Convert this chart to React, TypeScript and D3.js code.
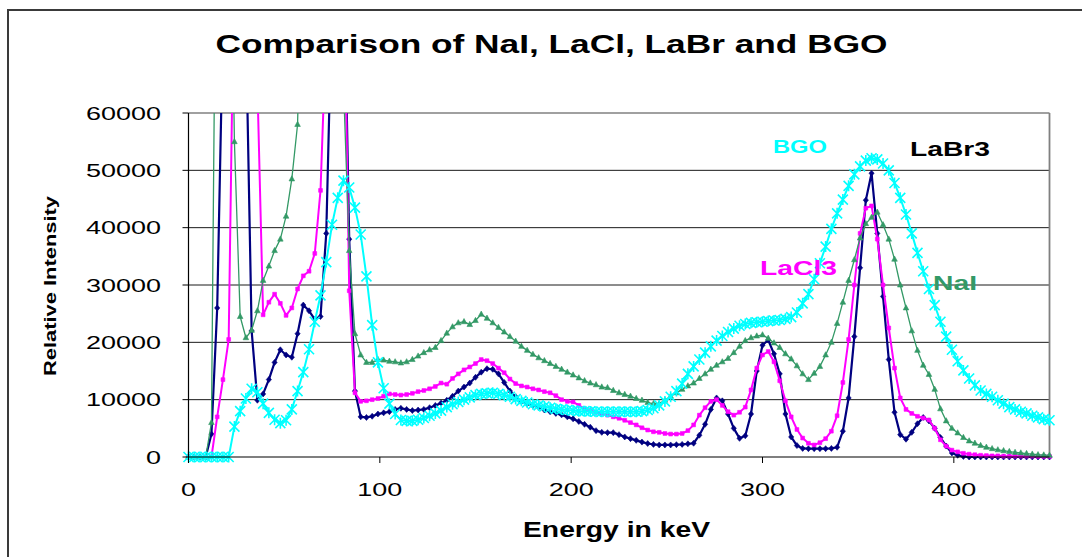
import React from "react";
import * as d3 from "d3";

// Energy channels (keV), one sample every 3 keV from 0 to 450
const energies: number[] = d3.range(0, 451, 3);

const labr3: number[] = [
  0, 0, 0, 0, 4000, 26000, 75000, 120000, 130000, 110000,
  75000, 22000, 9900, 11000, 13500, 16500, 18700, 17800, 17400, 21500,
  26500, 25500, 24000, 24500, 39000, 80000, 120000, 90000, 38000, 11500,
  7000, 6900, 7100, 7500, 7700, 7900, 8300, 8500, 8300, 8100,
  8200, 8300, 8600, 9000, 9400, 9900, 10600, 11500, 12200, 12900,
  13900, 14800, 15400, 15300, 14500, 13000, 11500, 10500, 9700, 9300,
  9000, 8700, 8200, 7900, 7600, 7350, 7000, 6650, 6200, 5700,
  5200, 4600, 4300, 4250, 4250, 3900, 3500, 3200, 2900, 2600,
  2350, 2200, 2100, 2100, 2100, 2150, 2200, 2300, 2400, 3800,
  5700, 8300, 10300, 9800, 7500, 5000, 3250, 3700, 7500, 15000,
  19500, 20400, 18000, 14500, 7500, 3500, 2000, 1500, 1450, 1450,
  1450, 1450, 1500, 1700, 4500, 10300, 21000, 33000, 44800, 49500,
  39000, 28000, 17000, 7800, 3900, 3100, 4300, 5800, 6900, 6300,
  5000, 3400, 1900, 700, 300, 100, 0, 0, 0, 0,
  0, 0, 0, 0, 0, 0, 0, 0, 0, 0,
  0,
];

const lacl3: number[] = [
  0, 0, 0, 0, 0, 7000, 13500, 20500, 90000, 130000,
  140000, 110000, 65000, 24800, 27000, 28400, 26800, 24700, 26000, 29300,
  31600, 32400, 35500, 46500, 75000, 130000, 140000, 90000, 29000, 11200,
  9700, 9800, 10000, 10200, 10600, 11000, 10900, 10800, 10900, 11100,
  11400, 11600, 11900, 12300, 12900, 12700, 13700, 14500, 15200, 15700,
  16300, 17000, 16800, 16300, 15500, 14700, 13600, 12800, 12400, 12200,
  11900, 11700, 11400, 11200, 10700, 10000, 9700, 9600, 9000, 8400,
  8100, 7800, 7600, 7300, 7000, 6750, 6400, 6000, 5600, 5100,
  4700, 4400, 4300, 4100, 4000, 4000, 4100, 4600, 5600, 7300,
  8600, 9700, 10000, 9000, 7900, 7300, 7800, 8700, 11700, 15500,
  17800, 18400, 16600, 13300, 9800, 7000, 4800, 3300, 2400, 2100,
  2500, 3200, 4500, 7200, 13000, 20500, 30000, 39000, 43400, 43800,
  38000, 30000, 22500, 15500, 10300, 8300, 7600, 7100, 6800, 6450,
  5000, 3000, 1900, 1200, 900, 650, 500, 400, 300, 250,
  200, 200, 150, 150, 150, 150, 150, 150, 100, 100,
  100,
];

const nai: number[] = [
  0, 0, 0, 0, 6000, 120000, 150000, 120000, 55000, 24500,
  20800, 22100, 25500, 30800, 33300, 36000, 38000, 42000, 48500, 58000,
  100000, 140000, 160000, 160000, 160000, 150000, 120000, 65000, 36000, 21500,
  17800, 16500, 16500, 17000, 16900, 16700, 16600, 16400, 16600, 17000,
  17600, 18200, 18700, 19100, 20300, 21600, 22700, 23400, 23600, 23100,
  23800, 24900, 24200, 23400, 22600, 21800, 21000, 20200, 19300, 18600,
  17900, 17300, 16800, 16300, 15800, 15300, 14800, 14300, 13800, 13300,
  12900, 12600, 12200, 12100, 11600, 11200, 10900, 10600, 10200, 9900,
  9500, 9300, 9300, 9900, 10600, 11200, 11800, 12400, 12900, 13700,
  14500, 15300, 16000, 16600, 17200, 18200, 19300, 20300, 20800, 21100,
  21300, 20700, 19900, 19100, 18000, 17100, 15900, 14500, 13500, 14600,
  15800, 17800, 20000, 23300, 27000, 30800, 34400, 38200, 40700, 41800,
  42700, 40500, 38000, 34500, 30000, 26000, 22000, 18600, 16000, 14400,
  11800, 8400, 6300, 5000, 4200, 3400, 2800, 2400, 2000, 1700,
  1450, 1250, 1100, 950, 800, 700, 600, 500, 400, 350,
  300,
];

const bgo: number[] = [
  0, 0, 0, 0, 0, 0, 0, 0, 5300, 8000,
  10200, 11900, 11300, 9300, 7700, 6500, 5900, 6400, 8300, 11500,
  14800, 18800, 23600, 28200, 34000, 40500, 45200, 48200, 47000, 43500,
  38800, 31500, 23000, 16500, 12000, 9300, 7500, 6450, 6300, 6300,
  6500, 6800, 7200, 7600, 8100, 8700, 9200, 9600, 10000, 10400,
  10800, 11000, 11100, 11200, 11000, 10800, 10500, 10100, 9800, 9500,
  9200, 9000, 8800, 8600, 8400, 8300, 8200, 8100, 8000, 8000,
  7950, 7900, 7900, 7900, 7900, 7900, 7900, 7900, 7900, 8000,
  8200, 8500, 9000, 9700, 10500, 11500, 12800, 14500, 15800, 17000,
  18200, 19300, 20300, 21100, 21800, 22400, 22900, 23200, 23400, 23500,
  23600, 23700, 23800, 23900, 24100, 24400, 25200, 26800, 28400, 31000,
  33800, 36700, 39800, 42500, 44900, 47300, 49300, 50700, 51700, 52100,
  51900, 51200, 50000, 47800, 45200, 42300, 39000, 35600, 32400, 29300,
  26500, 23600, 21000, 18700, 16700, 15100, 13700, 12500, 11600, 11000,
  10500, 9900, 9300, 8700, 8300, 7900, 7600, 7200, 6900, 6600,
  6400,
];

const yTicks: number[] = [0, 10000, 20000, 30000, 40000, 50000, 60000];
const xTicks: number[] = [0, 100, 200, 300, 400];

const FONT = "'Liberation Sans', Arial, Helvetica, sans-serif";

type Marker = "diamond" | "square" | "triangle" | "star";

interface Series {
  name: string;
  values: number[];
  color: string;
  width: number;
  marker: Marker;
}

// drawn bottom to top
const seriesList: Series[] = [
  { name: "LaBr3", values: labr3, color: "#000080", width: 2.2, marker: "diamond" },
  { name: "LaCl3", values: lacl3, color: "#FF00FF", width: 2, marker: "square" },
  { name: "NaI", values: nai, color: "#339966", width: 1.3, marker: "triangle" },
  { name: "BGO", values: bgo, color: "#00FFFF", width: 2, marker: "star" },
];

function markerPath(m: Marker): string {
  switch (m) {
    case "diamond":
      return "M0,-3L2.6,0L0,3L-2.6,0Z";
    case "square":
      return "M-1.9,-1.9H1.9V1.9H-1.9Z";
    case "triangle":
      return "M0,-3.2L2.8,2H-2.8Z";
    case "star":
      return "M-5,-5L5,5M-5,5L5,-5M0,-5.5L0,5.5";
  }
}

export default function App() {
  const W = 1082;
  const H = 557;
  const left = 188.5;
  const right = 1049.5;
  const top = 113;
  const bottom = 457;

  const x = d3.scaleLinear().domain([0, 450]).range([left, right]);
  const y = d3.scaleLinear().domain([0, 60000]).range([bottom, top]);

  const line = d3
    .line<number>()
    .x((_, i) => x(energies[i]))
    .y((v) => y(v));

  return (
    <svg
      width={W}
      height={H}
      viewBox={`0 0 ${W} ${H}`}
      style={{ position: "absolute", left: 0, top: 0, background: "#fff" }}
      fontFamily={FONT}
    >
      <defs>
        <clipPath id="plotClip">
          <rect x={left} y={top} width={right - left + 2} height={bottom - top + 5} />
        </clipPath>
        <clipPath id="markClip">
          <rect x={left - 10} y={top - 6} width={right - left + 30} height={bottom - top + 18} />
        </clipPath>
      </defs>

      {/* outer chart frame */}
      <rect x={8} y={10} width={1100} height={580} fill="#fff" stroke="#3a3a3a" strokeWidth={2} />

      {/* title */}
      <text
        x={551.5}
        y={53}
        textAnchor="middle"
        fontSize={25.5}
        fontWeight="bold"
        textLength={672}
        lengthAdjust="spacingAndGlyphs"
      >
        Comparison of NaI, LaCl, LaBr and BGO
      </text>

      {/* horizontal gridlines */}
      {yTicks
        .filter((t) => t > 0 && t < 60000)
        .map((t) => (
          <line key={`g${t}`} x1={left} x2={right} y1={y(t)} y2={y(t)} stroke="#1a1a1a" strokeWidth={1} />
        ))}

      {/* plot frame: top and right in grey */}
      <line x1={left} x2={right} y1={top} y2={top} stroke="#808080" strokeWidth={1.5} />
      <line x1={right} x2={right} y1={top} y2={bottom} stroke="#808080" strokeWidth={1.8} />

      {/* series */}
      {seriesList.map((s) => {
        const d = line(s.values) || "";
        const mp = markerPath(s.marker);
        return (
          <g key={s.name}>
            <path d={d} fill="none" stroke={s.color} strokeWidth={s.width} clipPath="url(#plotClip)" strokeLinejoin="round" />
            <g clipPath="url(#markClip)">
              {s.values.map((v, i) =>
                y(v) < top - 2 ? null : (
                  <path
                    key={i}
                    transform={`translate(${x(energies[i])},${y(v)})`}
                    d={mp}
                    fill={s.marker === "star" ? "none" : s.color}
                    stroke={s.color}
                    strokeWidth={s.marker === "star" ? 1.6 : 0.6}
                  />
                )
              )}
            </g>
          </g>
        );
      })}

      {/* axes */}
      <line x1={left} x2={left} y1={top} y2={bottom} stroke="#000" strokeWidth={1.2} />
      <line x1={left} x2={right} y1={bottom} y2={bottom} stroke="#000" strokeWidth={1.2} />
      {yTicks.map((t) => (
        <line key={`yt${t}`} x1={left - 6} x2={left} y1={y(t)} y2={y(t)} stroke="#000" strokeWidth={1} />
      ))}
      {xTicks.map((t) => (
        <line key={`xt${t}`} x1={x(t)} x2={x(t)} y1={bottom} y2={bottom + 6} stroke="#000" strokeWidth={1} />
      ))}

      {/* tick labels */}
      {yTicks.map((t) => {
        const label = String(t);
        return (
          <text
            key={`yl${t}`}
            x={161}
            y={y(t) + 6.7}
            textAnchor="end"
            fontSize={18.5}
            textLength={label.length * 15}
            lengthAdjust="spacingAndGlyphs"
          >
            {label}
          </text>
        );
      })}
      {xTicks.map((t) => {
        const label = String(t);
        return (
          <text
            key={`xl${t}`}
            x={x(t)}
            y={496}
            textAnchor="middle"
            fontSize={18.5}
            textLength={label.length * 15}
            lengthAdjust="spacingAndGlyphs"
          >
            {label}
          </text>
        );
      })}

      {/* axis titles */}
      <text
        x={616.5}
        y={537}
        textAnchor="middle"
        fontSize={22}
        fontWeight="bold"
        textLength={187}
        lengthAdjust="spacingAndGlyphs"
      >
        Energy in keV
      </text>
      <text
        transform="translate(56,286) rotate(-90)"
        textAnchor="middle"
        fontSize={17}
        fontWeight="bold"
        textLength={180}
        lengthAdjust="spacingAndGlyphs"
      >
        Relative Intensity
      </text>

      {/* series labels */}
      <text x={773} y={153} fontSize={19} fontWeight="bold" fill="#00FFFF" textLength={54} lengthAdjust="spacingAndGlyphs">
        BGO
      </text>
      <text x={910} y={156} fontSize={19.5} fontWeight="bold" fill="#000" textLength={80} lengthAdjust="spacingAndGlyphs">
        LaBr3
      </text>
      <text x={760} y={275} fontSize={19.5} fontWeight="bold" fill="#FF00FF" textLength={77} lengthAdjust="spacingAndGlyphs">
        LaCl3
      </text>
      <text x={933} y={290} fontSize={19.5} fontWeight="bold" fill="#339966" textLength={44} lengthAdjust="spacingAndGlyphs">
        NaI
      </text>
    </svg>
  );
}
